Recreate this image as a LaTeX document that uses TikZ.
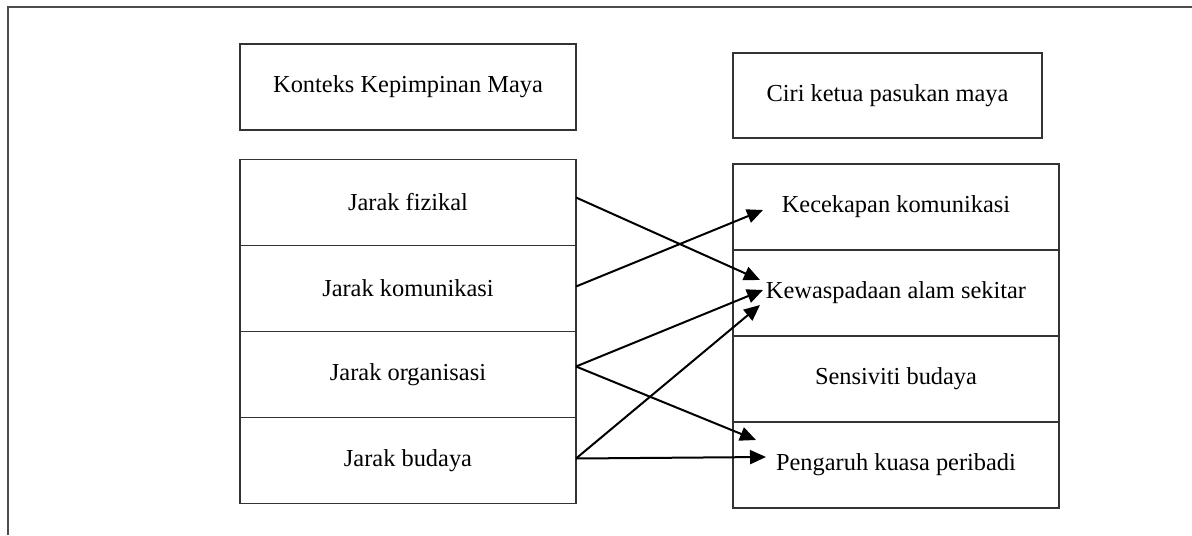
\documentclass[tikz,border=0pt]{standalone}
\usepackage{fontspec}
\setmainfont{Liberation Serif}
\usetikzlibrary{arrows.meta}

\tikzset{
  kotak/.style={draw=black!80, line width=0.8pt, inner sep=0pt, outer sep=0pt,
    minimum height=43pt, font=\fontsize{12.2}{14}\selectfont},
  kiri/.style={kotak, minimum width=168pt},
  kanan/.style={kotak, minimum width=163pt},
  panah/.style={line width=1pt, -{Triangle[length=8pt,width=7pt]}}
}

\begin{document}
\begin{tikzpicture}[x=0.5pt,y=-0.5pt]
    \useasboundingbox (0,0) rectangle (1192,535);
    \coordinate (bawah) at (8,535);
    \coordinate (sudut) at (8,7);
    \coordinate (hujung) at (1192,7);
    \draw[black!70, line width=1pt] (bawah) -- (sudut) -- (hujung);

    \node[kiri] (kontek) at (408,87) {Konteks Kepimpinan Maya};
    \node[kotak, minimum width=154.5pt, minimum height=42.5pt] (ciri) at (887.5,95.5) {Ciri ketua pasukan maya};

    \node[kiri] (fiz) at (408,202.5) {Jarak fizikal};
    \node[kiri] (kom) at (408,288.5) {Jarak komunikasi};
    \node[kiri] (org) at (408,374.5) {Jarak organisasi};
    \node[kiri] (bud) at (408,460.5) {Jarak budaya};

    \node[kanan] (cek) at (896,207) {Kecekapan komunikasi};
    \node[kanan] (was) at (896,293) {Kewaspadaan alam sekitar};
    \node[kanan] (sen) at (896,379) {Sensiviti budaya};
    \node[kanan] (kua) at (896,465) {Pengaruh kuasa peribadi};

    \coordinate (keCek) at (763,210);
    \coordinate (keWasA) at (760,280);
    \coordinate (keWasB) at (763,290);
    \coordinate (keWasC) at (760,305);
    \coordinate (keKuaA) at (756,440);
    \coordinate (keKuaB) at (766,457);

    \draw[panah] ([yshift=2.5pt]fiz.east) -- (keWasA);
    \draw[panah] ([yshift=1pt]kom.east) -- (keCek);
    \draw[panah] ([yshift=4pt]org.east) -- (keWasB);
    \draw[panah] ([yshift=4pt]org.east) -- (keKuaA);
    \draw[panah] ([yshift=1pt]bud.east) -- (keWasC);
    \draw[panah] ([yshift=1pt]bud.east) -- (keKuaB);
\end{tikzpicture}
\end{document}
